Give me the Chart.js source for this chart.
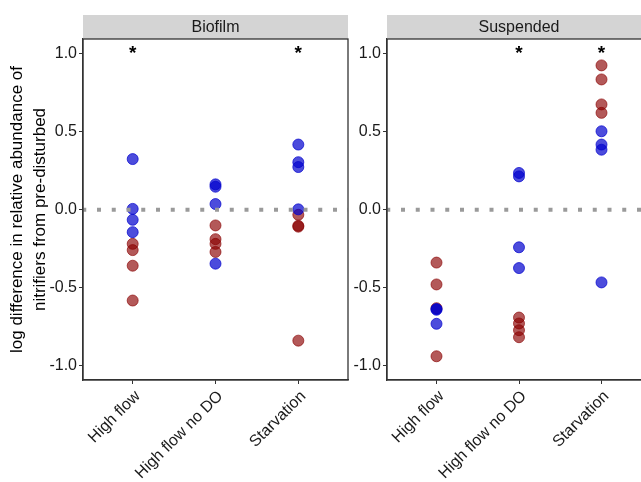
<!DOCTYPE html>
<html lang="en">
<head>
  <meta charset="UTF-8">
  <title>Nitrifier abundance</title>
  <script src="https://cdn.jsdelivr.net/npm/chart.js"></script>
  <style>
    body {
      margin: 0;
      background: #fff;
      font-family: "Liberation Sans", Arial, sans-serif;
    }
    #wrap {
      position: relative;
      width: 641px;
      height: 482px;
      overflow: hidden;
    }
    #wrap div {
      position: absolute;
      top: 0;
      height: 482px;
    }
  </style>
</head>
<body>
  <div id="wrap">
    <div style="left:0;width:350px;"><canvas id="biofilm" width="350" height="482"></canvas></div>
    <div style="left:350px;width:310px;"><canvas id="suspended" width="310" height="482"></canvas></div>
  </div>

  <script>
    // categories on the x axis (positions 1, 2, 3)
    const categories = ['High flow', 'High flow no DO', 'Starvation'];
    const yTicks = [-1.0, -0.5, 0.0, 0.5, 1.0];

    // one inner list per category
    const biofilmBlue = [
      [0.325, 0.006, -0.064, -0.143],
      [0.163, 0.148, 0.037, -0.345],
      [0.418, 0.305, 0.274, 0.003]
    ];
    const biofilmRed = [
      [-0.218, -0.258, -0.358, -0.581],
      [-0.100, -0.188, -0.218, -0.270],
      [-0.032, -0.102, -0.108, -0.838]
    ];
    const suspendedBlue = [
      [-0.635, -0.640, -0.730],
      [0.236, 0.214, -0.240, -0.373],
      [0.503, 0.418, 0.385, -0.465]
    ];
    const suspendedRed = [
      [-0.338, -0.478, -0.630, -0.938],
      [-0.690, -0.728, -0.771, -0.816],
      [0.925, 0.835, 0.675, 0.621]
    ];

    // significance stars (category index, 1-based)
    const biofilmStars = [1, 3];
    const suspendedStars = [2, 3];
    const starY = 1.03;

    function toPoints(groups) {
      const pts = [];
      groups.forEach((vals, i) => vals.forEach(v => pts.push({ x: i + 1, y: v })));
      return pts;
    }

    const panelPlugin = {
      id: 'panel',
      afterDraw(chart, args, opts) {
        const { ctx, chartArea: a, scales } = chart;
        ctx.save();
        // strip header
        ctx.fillStyle = '#d4d4d4';
        ctx.fillRect(a.left, 15, a.right - a.left, a.top - 15);
        ctx.fillStyle = '#1a1a1a';
        ctx.font = '16px "Liberation Sans", Arial, sans-serif';
        ctx.textAlign = 'center';
        ctx.textBaseline = 'middle';
        ctx.fillText(opts.label, (a.left + a.right) / 2, (15 + a.top) / 2 + 1);
        // panel border
        ctx.strokeStyle = '#333';
        ctx.lineWidth = 1.3;
        ctx.strokeRect(a.left, a.top, a.right - a.left, a.bottom - a.top);
        // stars
        ctx.fillStyle = '#000';
        ctx.font = 'bold 19px "Liberation Sans", Arial, sans-serif';
        ctx.textBaseline = 'alphabetic';
        opts.stars.forEach(c => {
          ctx.fillText('*', scales.x.getPixelForValue(c), scales.y.getPixelForValue(starY) + 10);
        });
        ctx.restore();
      }
    };

    function makeChart(id, label, blue, red, stars, yWidth, padRight, showTitle) {
      return new Chart(document.getElementById(id), {
        type: 'scatter',
        data: {
          datasets: [
            {
              type: 'line',
              data: [{ x: 0.4, y: 0 }, { x: 3.6, y: 0 }],
              borderColor: '#9a9a9a',
              borderWidth: 4,
              borderDash: [4, 10.75],
              borderDashOffset: 0.75,
              borderCapStyle: 'butt',
              pointRadius: 0,
              order: 0
            },
            {
              data: toPoints(blue),
              backgroundColor: 'rgba(0, 0, 205, 0.7)',
              borderColor: 'rgba(0, 0, 205, 0.7)',
              borderWidth: 1,
              pointRadius: 5.5,
              order: 1
            },
            {
              data: toPoints(red),
              backgroundColor: 'rgba(139, 0, 0, 0.65)',
              borderColor: 'rgba(139, 0, 0, 0.65)',
              borderWidth: 1,
              pointRadius: 5.5,
              order: 2
            }
          ]
        },
        options: {
          responsive: false,
          animation: false,
          layout: { autoPadding: false, padding: { top: 39, right: padRight, left: 0, bottom: 0 } },
          plugins: {
            legend: { display: false },
            tooltip: { enabled: false },
            panel: { label: label, stars: stars }
          },
          scales: {
            x: {
              type: 'linear',
              min: 0.4,
              max: 3.6,
              afterBuildTicks: s => { s.ticks = categories.map((c, i) => ({ value: i + 1 })); },
              afterFit: s => { s.height = 102; s.paddingLeft = 0; s.paddingRight = 0; },
              grid: { drawOnChartArea: false, tickLength: 4, color: '#333' },
              border: { color: '#333', width: 1.3 },
              ticks: {
                autoSkip: false,
                minRotation: 45,
                maxRotation: 45,
                padding: 3,
                labelOffset: 5,
                color: '#1a1a1a',
                font: { size: 16, family: '"Liberation Sans", Arial, sans-serif' },
                callback: v => categories[v - 1]
              }
            },
            y: {
              min: -1.09,
              max: 1.094,
              afterBuildTicks: s => { s.ticks = yTicks.map(v => ({ value: v })); },
              afterFit: s => { s.width = yWidth; },
              grid: { drawOnChartArea: false, tickLength: 4, color: '#333' },
              border: { color: '#333', width: 1.3 },
              ticks: {
                padding: 2,
                color: '#1a1a1a',
                font: { size: 16, family: '"Liberation Sans", Arial, sans-serif' },
                callback: v => v.toFixed(1)
              },
              title: {
                display: showTitle,
                text: ['log difference in relative abundance of', 'nitrifiers from pre-disturbed'],
                color: '#000',
                padding: { top: 5.5, bottom: 0 },
                font: { size: 17, lineHeight: 1.35, family: '"Liberation Sans", Arial, sans-serif' }
              }
            }
          }
        },
        plugins: [panelPlugin]
      });
    }

    makeChart('biofilm', 'Biofilm', biofilmBlue, biofilmRed, biofilmStars, 83, 2, true);
    makeChart('suspended', 'Suspended', suspendedBlue, suspendedRed, suspendedStars, 37, 9, false);
  </script>
</body>
</html>
